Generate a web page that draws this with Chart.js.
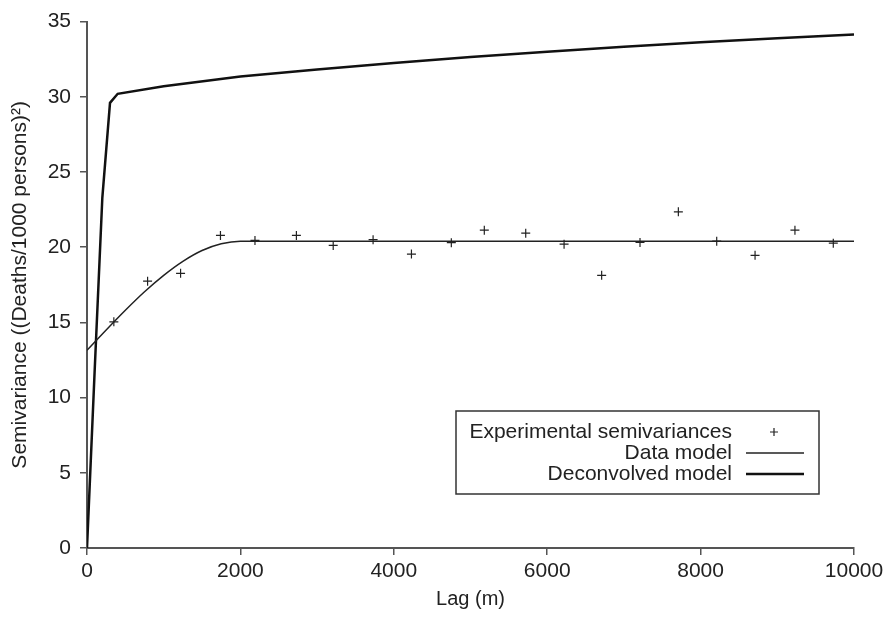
<!DOCTYPE html>
<html>
<head>
<meta charset="utf-8">
<title>Semivariance</title>
<script src="https://cdn.jsdelivr.net/npm/chart.js@4"></script>
<style>
  html, body { margin: 0; padding: 0; background: #fff; }
  canvas { display: block; }
</style>
</head>
<body>
<canvas id="chart" width="890" height="617"></canvas>
<script>
// experimental semivariances
const lagExp = [350, 790, 1220, 1740, 2190, 2730, 3210, 3730, 4230, 4750, 5180, 5720, 6220, 6710, 7210, 7710, 8210, 8710, 9230, 9730];
const gammaExp = [15.04, 17.74, 18.26, 20.78, 20.45, 20.78, 20.12, 20.50, 19.54, 20.30, 21.13, 20.93, 20.20, 18.13, 20.32, 22.35, 20.40, 19.46, 21.13, 20.27];

// fitted data model
const lagModel = [0, 250, 500, 750, 1000, 1250, 1500, 1750, 2000, 2250, 10000];
const gammaModel = [13.15, 14.50, 15.81, 17.04, 18.13, 19.06, 19.78, 20.23, 20.40, 20.40, 20.40];

// deconvolved model
const lagDeconv = [0, 100, 200, 300, 400, 1000, 2000, 3000, 4000, 5000, 6000, 7000, 8000, 9000, 10000];
const gammaDeconv = [0, 11.8, 23.3, 29.6, 30.2, 30.7, 31.35, 31.82, 32.25, 32.65, 33.0, 33.32, 33.62, 33.9, 34.15];

const xTicks = [0, 2000, 4000, 6000, 8000, 10000];
const yTicks = [0, 5, 10, 15, 20, 25, 30, 35];

const fontFamily = "'Liberation Sans', Arial, Helvetica, sans-serif";
const axisColor = '#555';
const textColor = '#222';

function toPoints(xs, ys) {
  return xs.map((x, i) => ({ x: x, y: ys[i] }));
}

// legend drawn as a box, text right aligned and symbol on the right
const boxLegend = {
  id: 'boxLegend',
  afterDraw(chart) {
    const ctx = chart.ctx;
    const left = 456, top = 411, width = 363, height = 83;
    ctx.save();
    ctx.fillStyle = '#fff';
    ctx.fillRect(left, top, width, height);
    ctx.strokeStyle = '#333';
    ctx.lineWidth = 1.5;
    ctx.strokeRect(left, top, width, height);

    ctx.font = '21px ' + fontFamily;
    ctx.fillStyle = textColor;
    ctx.textAlign = 'right';
    ctx.textBaseline = 'middle';

    const rows = [432, 453, 474];
    chart.data.datasets.forEach((ds, i) => {
      const y = rows[i];
      ctx.fillText(ds.label, 732, y);
      ctx.strokeStyle = ds.borderColor;
      if (ds.showLine === false) {
        ctx.lineWidth = 1.2;
        ctx.beginPath();
        ctx.moveTo(770, y);
        ctx.lineTo(778, y);
        ctx.moveTo(774, y - 4);
        ctx.lineTo(774, y + 4);
        ctx.stroke();
      } else {
        ctx.lineWidth = ds.borderWidth;
        ctx.beginPath();
        ctx.moveTo(746, y);
        ctx.lineTo(804, y);
        ctx.stroke();
      }
    });
    ctx.restore();
  }
};

const ctx = document.getElementById('chart').getContext('2d');
new Chart(ctx, {
  type: 'line',
  data: {
    datasets: [
      {
        label: 'Experimental semivariances',
        data: toPoints(lagExp, gammaExp),
        showLine: false,
        pointStyle: 'cross',
        pointRadius: 4.5,
        pointBorderWidth: 1.2,
        borderColor: '#222',
        backgroundColor: '#222'
      },
      {
        label: 'Data model',
        data: toPoints(lagModel, gammaModel),
        borderColor: '#222',
        borderWidth: 1.5,
        pointRadius: 0,
        cubicInterpolationMode: 'monotone',
        fill: false
      },
      {
        label: 'Deconvolved model',
        data: toPoints(lagDeconv, gammaDeconv),
        borderColor: '#111',
        borderWidth: 2.5,
        pointRadius: 0,
        tension: 0,
        fill: false
      }
    ]
  },
  options: {
    responsive: false,
    animation: false,
    layout: { padding: { top: 19, right: 36, left: 0, bottom: 0 } },
    plugins: {
      legend: { display: false },
      tooltip: { enabled: false }
    },
    scales: {
      x: {
        type: 'linear',
        min: 0,
        max: 10000,
        afterFit(scale) { scale.height = 69; },
        afterBuildTicks(scale) { scale.ticks = xTicks.map(v => ({ value: v })); },
        border: { display: true, color: axisColor, width: 2 },
        grid: { drawOnChartArea: false, drawTicks: true, tickLength: 7, color: axisColor, lineWidth: 1.5 },
        ticks: {
          padding: 4,
          color: textColor,
          font: { size: 21, family: fontFamily },
          maxRotation: 0,
          callback: v => String(v)
        },
        title: {
          display: true,
          text: 'Lag (m)',
          color: textColor,
          font: { size: 20, family: fontFamily },
          padding: { top: 0, bottom: 6 }
        }
      },
      y: {
        type: 'linear',
        min: 0,
        max: 35,
        afterFit(scale) { scale.width = 87; },
        afterBuildTicks(scale) { scale.ticks = yTicks.map(v => ({ value: v })); },
        border: { display: true, color: axisColor, width: 2 },
        grid: { drawOnChartArea: false, drawTicks: true, tickLength: 7, color: axisColor, lineWidth: 1.5 },
        ticks: {
          padding: 9,
          color: textColor,
          font: { size: 21, family: fontFamily },
          callback: v => String(v)
        },
        title: {
          display: true,
          text: 'Semivariance ((Deaths/1000 persons)²)',
          color: textColor,
          font: { size: 21, family: fontFamily },
          padding: { top: 8, bottom: 0 }
        }
      }
    }
  },
  plugins: [boxLegend]
});
</script>
</body>
</html>
